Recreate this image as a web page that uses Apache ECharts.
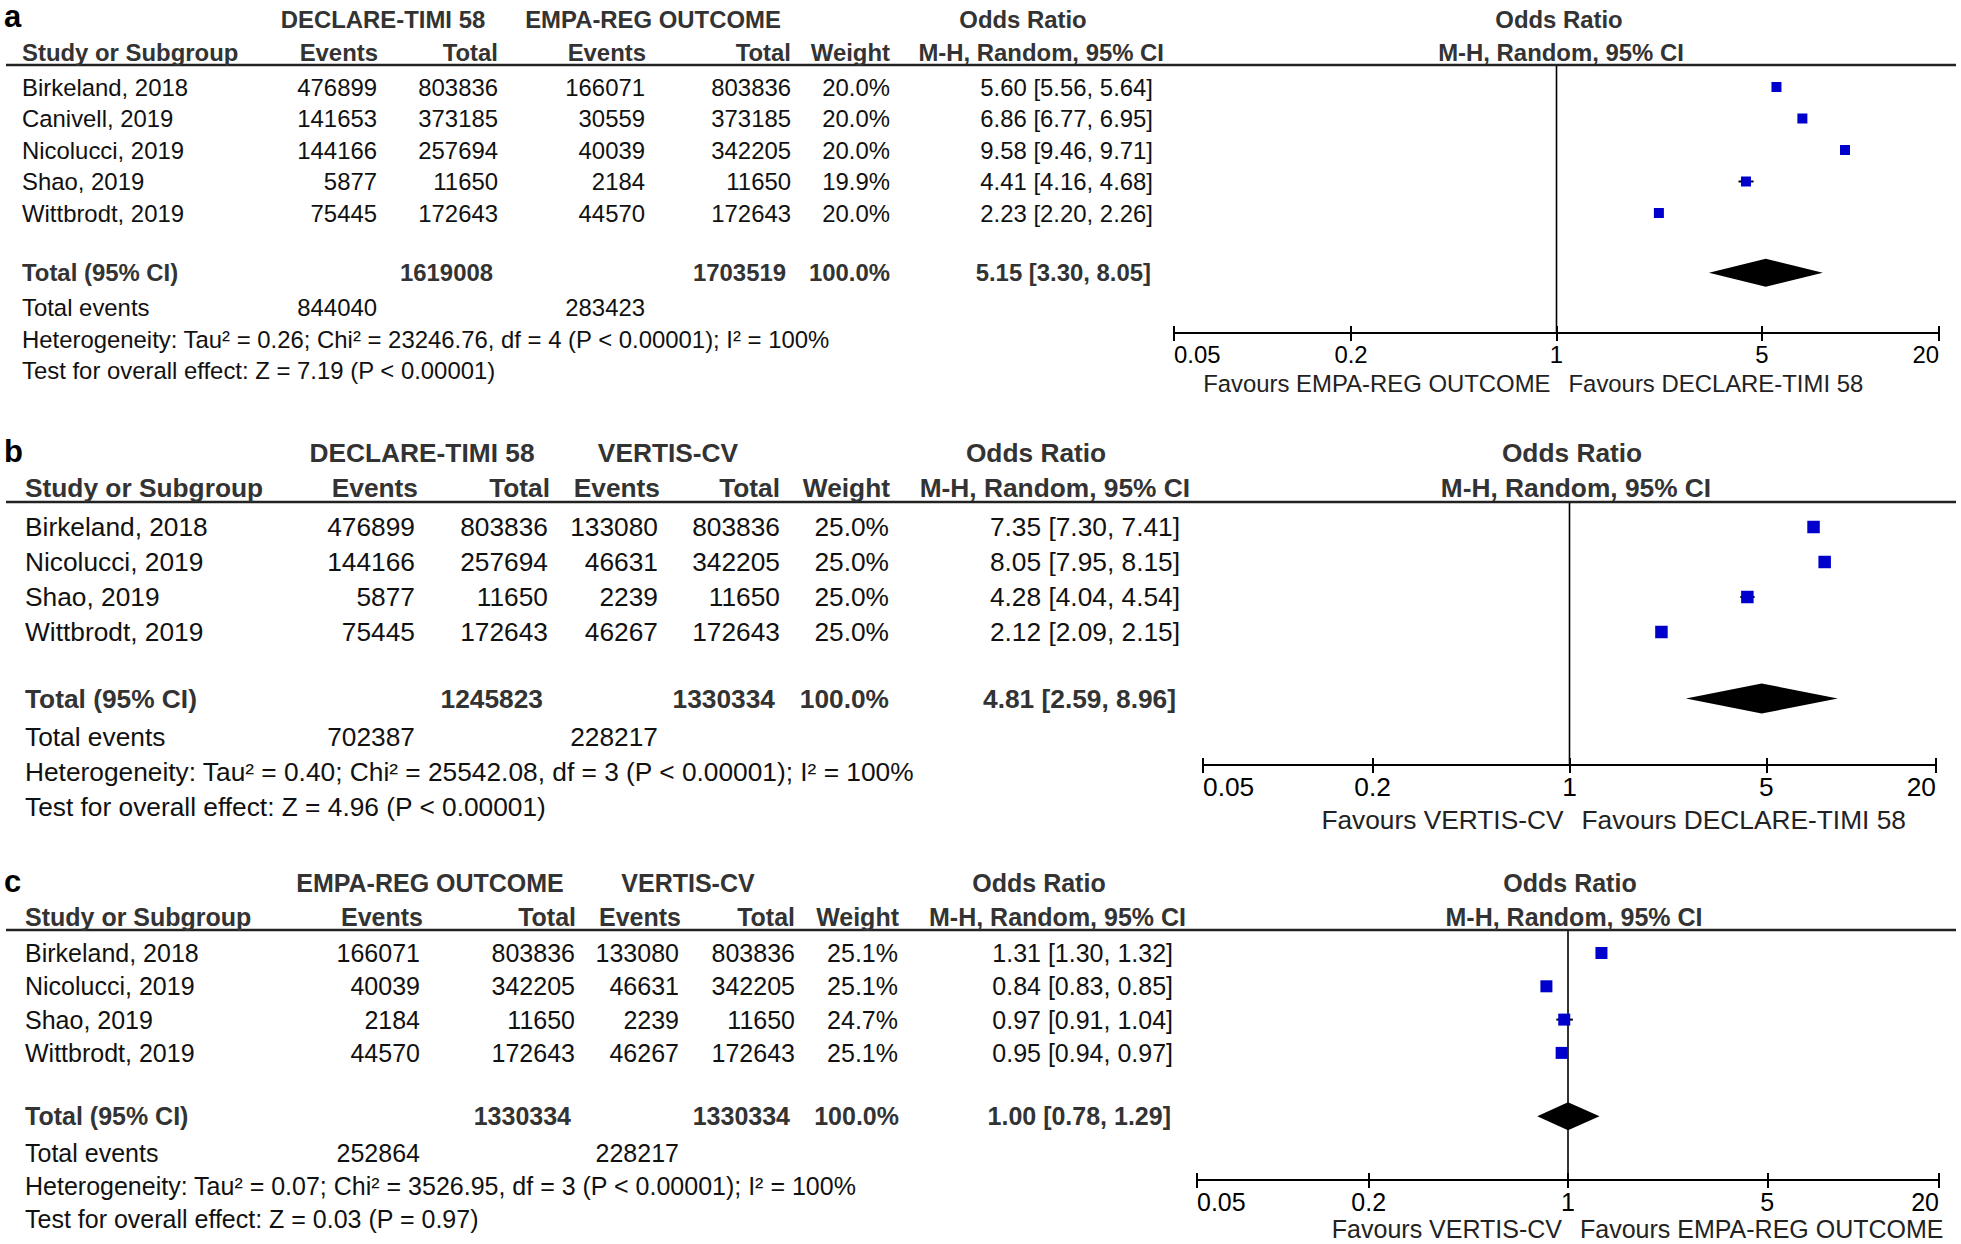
<!DOCTYPE html>
<html><head><meta charset="utf-8">
<script src="https://cdn.jsdelivr.net/npm/echarts@6/dist/echarts.min.js"></script>
<style>html,body{margin:0;padding:0;background:#fff}#c{width:1961px;height:1244px}</style>
</head><body><div id="c"></div>
<script>
// ================= DATA =================
const orTickValues = [0.05, 0.2, 1, 5, 20];
const orTickLabels = ['0.05', '0.2', '1', '5', '20'];

// ---- Panel a ----
const aGroups = ['DECLARE-TIMI 58', 'EMPA-REG OUTCOME'];
const aStudies = ['Birkeland, 2018', 'Canivell, 2019', 'Nicolucci, 2019', 'Shao, 2019', 'Wittbrodt, 2019'];
const aEvents1 = [476899, 141653, 144166, 5877, 75445];
const aTotal1 = [803836, 373185, 257694, 11650, 172643];
const aEvents2 = [166071, 30559, 40039, 2184, 44570];
const aTotal2 = [803836, 373185, 342205, 11650, 172643];
const aWeight = [20.0, 20.0, 20.0, 19.9, 20.0];
const aOR = [5.60, 6.86, 9.58, 4.41, 2.23];
const aLo = [5.56, 6.77, 9.46, 4.16, 2.20];
const aHi = [5.64, 6.95, 9.71, 4.68, 2.26];
const aTotals = [1619008, 1703519];
const aTotalWeight = 100.0;
const aPooled = [5.15, 3.30, 8.05];
const aTotalEvents = [844040, 283423];
const aHet = 'Heterogeneity: Tau² = 0.26; Chi² = 23246.76, df = 4 (P < 0.00001); I² = 100%';
const aTest = 'Test for overall effect: Z = 7.19 (P < 0.00001)';
const aFavours = ['Favours EMPA-REG OUTCOME', 'Favours DECLARE-TIMI 58'];

// ---- Panel b ----
const bGroups = ['DECLARE-TIMI 58', 'VERTIS-CV'];
const bStudies = ['Birkeland, 2018', 'Nicolucci, 2019', 'Shao, 2019', 'Wittbrodt, 2019'];
const bEvents1 = [476899, 144166, 5877, 75445];
const bTotal1 = [803836, 257694, 11650, 172643];
const bEvents2 = [133080, 46631, 2239, 46267];
const bTotal2 = [803836, 342205, 11650, 172643];
const bWeight = [25.0, 25.0, 25.0, 25.0];
const bOR = [7.35, 8.05, 4.28, 2.12];
const bLo = [7.30, 7.95, 4.04, 2.09];
const bHi = [7.41, 8.15, 4.54, 2.15];
const bTotals = [1245823, 1330334];
const bTotalWeight = 100.0;
const bPooled = [4.81, 2.59, 8.96];
const bTotalEvents = [702387, 228217];
const bHet = 'Heterogeneity: Tau² = 0.40; Chi² = 25542.08, df = 3 (P < 0.00001); I² = 100%';
const bTest = 'Test for overall effect: Z = 4.96 (P < 0.00001)';
const bFavours = ['Favours VERTIS-CV', 'Favours DECLARE-TIMI 58'];

// ---- Panel c ----
const cGroups = ['EMPA-REG OUTCOME', 'VERTIS-CV'];
const cStudies = ['Birkeland, 2018', 'Nicolucci, 2019', 'Shao, 2019', 'Wittbrodt, 2019'];
const cEvents1 = [166071, 40039, 2184, 44570];
const cTotal1 = [803836, 342205, 11650, 172643];
const cEvents2 = [133080, 46631, 2239, 46267];
const cTotal2 = [803836, 342205, 11650, 172643];
const cWeight = [25.1, 25.1, 24.7, 25.1];
const cOR = [1.31, 0.84, 0.97, 0.95];
const cLo = [1.30, 0.83, 0.91, 0.94];
const cHi = [1.32, 0.85, 1.04, 0.97];
const cTotals = [1330334, 1330334];
const cTotalWeight = 100.0;
const cPooled = [1.00, 0.78, 1.29];
const cTotalEvents = [252864, 228217];
const cHet = 'Heterogeneity: Tau² = 0.07; Chi² = 3526.95, df = 3 (P < 0.00001); I² = 100%';
const cTest = 'Test for overall effect: Z = 0.03 (P = 0.97)';
const cFavours = ['Favours VERTIS-CV', 'Favours EMPA-REG OUTCOME'];

// ================= ASSEMBLY =================
const panels = [
  {label:'a', groups:aGroups, studies:aStudies, ev1:aEvents1, tot1:aTotal1, ev2:aEvents2, tot2:aTotal2, w:aWeight, or:aOR, lo:aLo, hi:aHi, totals:aTotals, tw:aTotalWeight, pooled:aPooled, te:aTotalEvents, het:aHet, test:aTest, fav:aFavours},
  {label:'b', groups:bGroups, studies:bStudies, ev1:bEvents1, tot1:bTotal1, ev2:bEvents2, tot2:bTotal2, w:bWeight, or:bOR, lo:bLo, hi:bHi, totals:bTotals, tw:bTotalWeight, pooled:bPooled, te:bTotalEvents, het:bHet, test:bTest, fav:bFavours},
  {label:'c', groups:cGroups, studies:cStudies, ev1:cEvents1, tot1:cTotal1, ev2:cEvents2, tot2:cTotal2, w:cWeight, or:cOR, lo:cLo, hi:cHi, totals:cTotals, tw:cTotalWeight, pooled:cPooled, te:cTotalEvents, het:cHet, test:cTest, fav:cFavours}
];

// layout (pixels) per panel
const layouts = [
  {font:23.9, labelY:16, h1Y:19, h2Y:52, lineY:65, row0:87, step:31.5, axisY:333, gl:1174, gr:1939, favY:383,
   col:{study:22, ev1:377, tot1:498, ev2:645, tot2:791, w:890, ci:1153},
   hdr:{ev1:378, tot1:498, ev2:646, tot2:791, w:890, ci:1164},
   tot:{tot1:493, tot2:786, w:890, ci:1151},
   grpC:[383, 653], orC:1023, fOrC:1559, fMhC:1561, sq:10, dh:14},
  {font:26.3, labelY:451, h1Y:453, h2Y:488, lineY:502, row0:527, step:35, axisY:765, gl:1203, gr:1936, favY:820,
   col:{study:25, ev1:415, tot1:548, ev2:658, tot2:780, w:889, ci:1180},
   hdr:{ev1:418, tot1:550, ev2:660, tot2:780, w:890, ci:1190},
   tot:{tot1:543, tot2:775, w:889, ci:1176},
   grpC:[422, 668], orC:1036, fOrC:1572, fMhC:1576, sq:12.5, dh:15},
  {font:25, labelY:881, h1Y:883, h2Y:917, lineY:930, row0:953, step:33.3, axisY:1180, gl:1197, gr:1939, favY:1229,
   col:{study:25, ev1:420, tot1:575, ev2:679, tot2:795, w:898, ci:1173},
   hdr:{ev1:423, tot1:576, ev2:681, tot2:795, w:899, ci:1186},
   tot:{tot1:571, tot2:790, w:899, ci:1171},
   grpC:[430, 688], orC:1039, fOrC:1570, fMhC:1574, sq:12, dh:14}
];

const FONT = '"Liberation Sans", Arial, Helvetica, sans-serif';
const BODY = '#111';
const HEAD = '#333';
const BLUE = '#0000CC';

function fmtCI(o, l, h) { return o.toFixed(2) + ' [' + l.toFixed(2) + ', ' + h.toFixed(2) + ']'; }
function tickLabel(v) {
  const i = orTickValues.findIndex(t => Math.abs(Math.log10(t) - Math.log10(v)) < 1e-6);
  return i >= 0 ? orTickLabels[i] : '';
}

const grids = [], xAxes = [], yAxes = [], series = [], graphics = [];

function txt(x, y, text, size, opts) {
  opts = opts || {};
  const style = {
    text: text,
    font: (opts.bold ? 'bold ' : '') + size + 'px ' + FONT,
    fill: opts.color || BODY,
    align: opts.align || 'left',
    verticalAlign: 'middle'
  };
  if (opts.lineHeight) style.lineHeight = opts.lineHeight;
  graphics.push({type: 'text', x: x, y: y, silent: true, z: 100, style: style});
}

panels.forEach((p, k) => {
  const L = layouts[k];
  const f = L.font;
  const n = p.studies.length;
  const rowY = i => L.row0 + i * L.step;
  const totalIdx = n + 0.9;

  // panel letter
  txt(4, L.labelY, p.label, 31, {bold: true, color: '#000', lineHeight: 30});
  // header row 1
  txt(L.grpC[0], L.h1Y, p.groups[0], f, {bold: true, color: HEAD, align: 'center'});
  txt(L.grpC[1], L.h1Y, p.groups[1], f, {bold: true, color: HEAD, align: 'center'});
  txt(L.orC, L.h1Y, 'Odds Ratio', f, {bold: true, color: HEAD, align: 'center'});
  txt(L.fOrC, L.h1Y, 'Odds Ratio', f, {bold: true, color: HEAD, align: 'center'});
  // header row 2
  txt(L.col.study, L.h2Y, 'Study or Subgroup', f, {bold: true, color: HEAD});
  txt(L.hdr.ev1, L.h2Y, 'Events', f, {bold: true, color: HEAD, align: 'right'});
  txt(L.hdr.tot1, L.h2Y, 'Total', f, {bold: true, color: HEAD, align: 'right'});
  txt(L.hdr.ev2, L.h2Y, 'Events', f, {bold: true, color: HEAD, align: 'right'});
  txt(L.hdr.tot2, L.h2Y, 'Total', f, {bold: true, color: HEAD, align: 'right'});
  txt(L.hdr.w, L.h2Y, 'Weight', f, {bold: true, color: HEAD, align: 'right'});
  txt(L.hdr.ci, L.h2Y, 'M-H, Random, 95% CI', f, {bold: true, color: HEAD, align: 'right'});
  txt(L.fMhC, L.h2Y, 'M-H, Random, 95% CI', f, {bold: true, color: HEAD, align: 'center'});
  // header rule
  graphics.push({type: 'line', silent: true, z: 90, shape: {x1: 6, y1: L.lineY, x2: 1956, y2: L.lineY},
    style: {stroke: '#222', lineWidth: 2.5}});

  // study rows
  p.studies.forEach((s, i) => {
    const y = rowY(i);
    txt(L.col.study, y, s, f);
    txt(L.col.ev1, y, String(p.ev1[i]), f, {align: 'right'});
    txt(L.col.tot1, y, String(p.tot1[i]), f, {align: 'right'});
    txt(L.col.ev2, y, String(p.ev2[i]), f, {align: 'right'});
    txt(L.col.tot2, y, String(p.tot2[i]), f, {align: 'right'});
    txt(L.col.w, y, p.w[i].toFixed(1) + '%', f, {align: 'right'});
    txt(L.col.ci, y, fmtCI(p.or[i], p.lo[i], p.hi[i]), f, {align: 'right'});
  });
  // total row
  const ty = rowY(totalIdx);
  txt(L.col.study, ty, 'Total (95% CI)', f, {bold: true, color: HEAD});
  txt(L.tot.tot1, ty, String(p.totals[0]), f, {bold: true, color: HEAD, align: 'right'});
  txt(L.tot.tot2, ty, String(p.totals[1]), f, {bold: true, color: HEAD, align: 'right'});
  txt(L.tot.w, ty, p.tw.toFixed(1) + '%', f, {bold: true, color: HEAD, align: 'right'});
  txt(L.tot.ci, ty, fmtCI(p.pooled[0], p.pooled[1], p.pooled[2]), f, {bold: true, color: HEAD, align: 'right'});
  // total events, het, test
  const tey = rowY(n + 2);
  txt(L.col.study, tey, 'Total events', f);
  txt(L.col.ev1, tey, String(p.te[0]), f, {align: 'right'});
  txt(L.col.ev2, tey, String(p.te[1]), f, {align: 'right'});
  txt(L.col.study, rowY(n + 3), p.het, f);
  txt(L.col.study, rowY(n + 4), p.test, f);

  // favours labels (around OR = 1)
  const cx = (L.gl + L.gr) / 2;
  txt(cx - 6, L.favY, p.fav[0], f, {color: '#222', align: 'right', lineHeight: Math.round(f)});
  txt(cx + 12, L.favY, p.fav[1], f, {color: '#222', lineHeight: Math.round(f)});

  // ---------- forest grid ----------
  const ymin = (L.lineY - L.row0) / L.step;
  const ymax = (L.axisY - L.row0) / L.step;
  const gridDef = {left: L.gl, top: L.lineY, width: L.gr - L.gl, height: L.axisY - L.lineY, outerBoundsMode: 'none', containLabel: false};
  grids.push(Object.assign({}, gridDef));
  const gi = grids.length - 1;
  xAxes.push({
    gridIndex: gi, type: 'log', logBase: 10, min: 0.05, max: 20, position: 'bottom',
    axisLine: {show: true, onZero: false, lineStyle: {color: '#000', width: 2}},
    axisTick: {show: true, customValues: orTickValues, length: 8, lineStyle: {color: '#000', width: 2}},
    axisLabel: {show: true, customValues: orTickValues, formatter: tickLabel, fontSize: f, fontFamily: FONT,
      color: '#000', margin: 9, alignMinLabel: 'left', alignMaxLabel: 'right'},
    splitLine: {show: false}, minorTick: {show: false}
  });
  yAxes.push({gridIndex: gi, type: 'value', inverse: true, min: ymin, max: ymax, show: false});

  // reference line at OR = 1
  series.push({
    type: 'custom', xAxisIndex: gi, yAxisIndex: gi, z: 2, silent: true,
    data: [[1, 0]],
    renderItem: (params, api) => {
      const pt = api.coord([api.value(0), api.value(1)]);
      const cs = params.coordSys;
      return {type: 'line', shape: {x1: pt[0], y1: cs.y, x2: pt[0], y2: cs.y + cs.height},
        style: {stroke: '#000', lineWidth: 1.6}};
    }
  });
  // study squares with CI whiskers
  const sq = L.sq;
  series.push({
    type: 'custom', xAxisIndex: gi, yAxisIndex: gi, z: 3, silent: true,
    encode: {x: [0, 1, 2], y: 3},
    data: p.or.map((o, i) => [o, p.lo[i], p.hi[i], i]),
    renderItem: (params, api) => {
      const c = api.coord([api.value(0), api.value(3)]);
      const l = api.coord([api.value(1), api.value(3)]);
      const h = api.coord([api.value(2), api.value(3)]);
      return {type: 'group', children: [
        {type: 'line', shape: {x1: l[0], y1: l[1], x2: h[0], y2: h[1]}, style: {stroke: '#000', lineWidth: 2}},
        {type: 'rect', shape: {x: c[0] - sq / 2, y: c[1] - sq / 2, width: sq, height: sq}, style: {fill: BLUE}}
      ]};
    }
  });
  // pooled diamond
  const dh = L.dh;
  series.push({
    type: 'custom', xAxisIndex: gi, yAxisIndex: gi, z: 4, silent: true,
    encode: {x: [0, 1, 2], y: 3},
    data: [[p.pooled[0], p.pooled[1], p.pooled[2], totalIdx]],
    renderItem: (params, api) => {
      const c = api.coord([api.value(0), api.value(3)]);
      const l = api.coord([api.value(1), api.value(3)]);
      const h = api.coord([api.value(2), api.value(3)]);
      return {type: 'polygon', shape: {points: [[l[0], c[1]], [c[0], c[1] - dh], [h[0], c[1]], [c[0], c[1] + dh]]},
        style: {fill: '#000'}};
    }
  });

  // duplicate grid only for upward half of tick marks
  grids.push(Object.assign({}, gridDef));
  const gj = grids.length - 1;
  xAxes.push({
    gridIndex: gj, type: 'log', logBase: 10, min: 0.05, max: 20, position: 'bottom',
    axisLine: {show: false, onZero: false},
    axisTick: {show: true, inside: true, customValues: orTickValues, length: 7, lineStyle: {color: '#000', width: 2}},
    axisLabel: {show: false}, splitLine: {show: false}
  });
  yAxes.push({gridIndex: gj, type: 'value', inverse: true, min: ymin, max: ymax, show: false});
});

const chart = echarts.init(document.getElementById('c'), null, {renderer: 'svg', width: 1961, height: 1244});
chart.setOption({
  backgroundColor: '#fff',
  animation: false,
  grid: grids,
  xAxis: xAxes,
  yAxis: yAxes,
  series: series,
  graphic: {elements: graphics}
});
</script>
</body></html>
